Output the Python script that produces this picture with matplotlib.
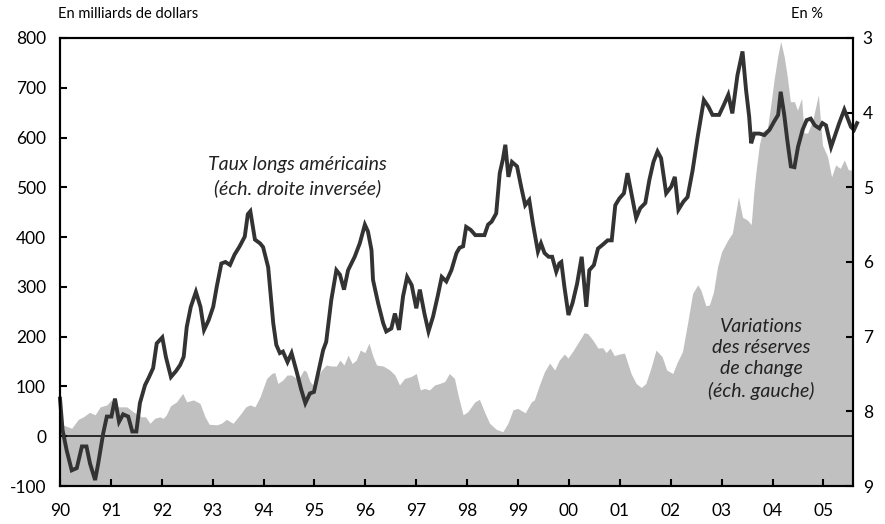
import matplotlib.pyplot as plt

# Variations des réserves de change, en milliards de dollars (échelle gauche)
res_dates = [1990.00, 1990.10, 1990.23, 1990.36, 1990.46, 1990.58, 1990.69, 1990.79, 1990.92, 1991.01,
             1991.14, 1991.31, 1991.44, 1991.60, 1991.68, 1991.77, 1991.86, 1991.96, 1992.03, 1992.09,
             1992.17, 1992.29, 1992.41, 1992.49, 1992.62, 1992.75, 1992.85, 1992.93, 1993.08, 1993.17,
             1993.27, 1993.40, 1993.55, 1993.65, 1993.73, 1993.83, 1993.93, 1994.00, 1994.06, 1994.16,
             1994.22, 1994.28, 1994.38, 1994.46, 1994.55, 1994.65, 1994.71, 1994.79, 1994.84, 1994.91,
             1994.97, 1995.04, 1995.14, 1995.23, 1995.33, 1995.43, 1995.50, 1995.58, 1995.66, 1995.74,
             1995.82, 1995.90, 1995.99, 1996.07, 1996.15, 1996.22, 1996.35, 1996.48, 1996.58, 1996.67,
             1996.77, 1996.90, 1997.00, 1997.08, 1997.16, 1997.26, 1997.36, 1997.46, 1997.56, 1997.65,
             1997.75, 1997.83, 1997.92, 1998.01, 1998.15, 1998.24, 1998.34, 1998.44, 1998.57, 1998.70,
             1998.80, 1998.90, 1998.99, 1999.14, 1999.26, 1999.32, 1999.42, 1999.52, 1999.62, 1999.72,
             1999.81, 1999.91, 1999.98, 2000.07, 2000.21, 2000.30, 2000.37, 2000.47, 2000.57, 2000.66,
             2000.73, 2000.81, 2000.89, 2000.99, 2001.09, 2001.22, 2001.32, 2001.42, 2001.51, 2001.61,
             2001.71, 2001.83, 2001.92, 2002.04, 2002.12, 2002.23, 2002.33, 2002.43, 2002.53, 2002.59,
             2002.69, 2002.76, 2002.84, 2002.92, 2003.00, 2003.12, 2003.21, 2003.33, 2003.41, 2003.51,
             2003.58, 2003.63, 2003.67, 2003.74, 2003.80, 2003.90, 2003.97, 2004.03, 2004.10, 2004.16,
             2004.23, 2004.29, 2004.35, 2004.43, 2004.49, 2004.57, 2004.62, 2004.69, 2004.79, 2004.90,
             2004.98, 2005.08, 2005.16, 2005.24, 2005.33, 2005.41, 2005.49, 2005.58]
res_vals = [26, 21, 16, 34, 39, 48, 43, 59, 63, 73,
            59, 59, 49, 39, 39, 26, 36, 39, 36, 43,
            61, 69, 86, 69, 73, 66, 39, 24, 23, 26,
            34, 26, 45, 59, 63, 59, 79, 99, 116, 126,
            128, 106, 113, 123, 123, 116, 119, 133, 130, 110,
            103, 116, 133, 143, 141, 141, 153, 143, 163, 146,
            153, 173, 168, 187, 160, 143, 141, 133, 123, 103,
            116, 120, 126, 93, 96, 93, 103, 106, 110, 126,
            116, 79, 43, 49, 69, 74, 49, 26, 14, 9,
            26, 53, 56, 47, 69, 73, 103, 130, 147, 133,
            153, 165, 157, 170, 193, 208, 206, 193, 177, 178,
            168, 177, 162, 165, 167, 126, 106, 98, 106, 137,
            173, 160, 133, 126, 147, 170, 227, 287, 304, 294,
            262, 264, 290, 341, 371, 394, 408, 481, 440, 434,
            425, 488, 528, 585, 612, 619, 669, 716, 762, 793,
            762, 722, 672, 672, 655, 679, 609, 609, 635, 686,
            585, 562, 521, 545, 538, 555, 535, 535]

# Taux longs américains, en % (échelle droite inversée)
taux_dates = [1990.00, 1990.05, 1990.13, 1990.23, 1990.33, 1990.43, 1990.52, 1990.59, 1990.69, 1990.75,
              1990.85, 1990.92, 1991.01, 1991.08, 1991.16, 1991.24, 1991.34, 1991.42, 1991.50, 1991.57,
              1991.67, 1991.75, 1991.83, 1991.90, 1992.01, 1992.08, 1992.18, 1992.28, 1992.36, 1992.43,
              1992.49, 1992.57, 1992.67, 1992.76, 1992.83, 1992.92, 1993.01, 1993.08, 1993.17, 1993.25,
              1993.34, 1993.43, 1993.53, 1993.63, 1993.69, 1993.74, 1993.83, 1993.93, 1993.99, 1994.09,
              1994.19, 1994.25, 1994.32, 1994.38, 1994.47, 1994.55, 1994.65, 1994.74, 1994.82, 1994.91,
              1994.99, 1995.07, 1995.17, 1995.23, 1995.33, 1995.43, 1995.50, 1995.58, 1995.66, 1995.79,
              1995.89, 1995.99, 1996.05, 1996.12, 1996.15, 1996.25, 1996.35, 1996.41, 1996.51, 1996.58,
              1996.66, 1996.74, 1996.82, 1996.91, 1997.00, 1997.07, 1997.16, 1997.24, 1997.33, 1997.42,
              1997.50, 1997.59, 1997.69, 1997.79, 1997.85, 1997.92, 1997.98, 1998.07, 1998.16, 1998.34,
              1998.41, 1998.48, 1998.57, 1998.64, 1998.70, 1998.75, 1998.81, 1998.88, 1998.98, 1999.06,
              1999.14, 1999.22, 1999.29, 1999.39, 1999.45, 1999.52, 1999.60, 1999.67, 1999.75, 1999.81,
              1999.85, 1999.91, 1999.99, 2000.07, 2000.16, 2000.25, 2000.34, 2000.40, 2000.49, 2000.57,
              2000.66, 2000.76, 2000.84, 2000.91, 2000.99, 2001.08, 2001.15, 2001.24, 2001.32, 2001.40,
              2001.50, 2001.58, 2001.66, 2001.74, 2001.81, 2001.91, 2002.01, 2002.08, 2002.15, 2002.25,
              2002.33, 2002.43, 2002.53, 2002.65, 2002.74, 2002.82, 2002.95, 2003.04, 2003.13, 2003.21,
              2003.31, 2003.41, 2003.48, 2003.54, 2003.58, 2003.64, 2003.74, 2003.84, 2003.94, 2004.03,
              2004.11, 2004.16, 2004.23, 2004.29, 2004.36, 2004.43, 2004.50, 2004.59, 2004.67, 2004.75,
              2004.83, 2004.92, 2004.98, 2005.05, 2005.15, 2005.22, 2005.31, 2005.41, 2005.46, 2005.54,
              2005.60, 2005.66]
taux_vals = [7.83, 8.25, 8.52, 8.79, 8.76, 8.47, 8.47, 8.70, 8.92, 8.70,
             8.29, 8.07, 8.07, 7.83, 8.14, 8.04, 8.07, 8.27, 8.27, 7.89,
             7.65, 7.54, 7.42, 7.09, 7.01, 7.27, 7.54, 7.46, 7.38, 7.27,
             6.87, 6.60, 6.40, 6.60, 6.91, 6.78, 6.60, 6.33, 6.02, 6.00,
             6.04, 5.90, 5.79, 5.66, 5.36, 5.32, 5.70, 5.75, 5.80, 6.07,
             6.82, 7.11, 7.22, 7.20, 7.34, 7.22, 7.47, 7.71, 7.89, 7.76,
             7.74, 7.49, 7.18, 7.07, 6.51, 6.11, 6.17, 6.37, 6.11, 5.93,
             5.75, 5.50, 5.59, 5.84, 6.24, 6.55, 6.82, 6.93, 6.89, 6.69,
             6.91, 6.46, 6.20, 6.31, 6.62, 6.37, 6.69, 6.93, 6.73, 6.46,
             6.20, 6.26, 6.11, 5.88, 5.81, 5.79, 5.53, 5.57, 5.64, 5.64,
             5.50, 5.46, 5.35, 4.81, 4.63, 4.43, 4.86, 4.66, 4.72, 4.99,
             5.24, 5.17, 5.48, 5.86, 5.75, 5.88, 5.93, 5.93, 6.13, 6.02,
             6.00, 6.33, 6.71, 6.55, 6.29, 5.93, 6.60, 6.11, 6.04, 5.82,
             5.77, 5.71, 5.71, 5.24, 5.15, 5.08, 4.81, 5.13, 5.41, 5.28,
             5.21, 4.90, 4.66, 4.52, 4.61, 5.08, 4.99, 4.86, 5.30, 5.19,
             5.13, 4.77, 4.32, 3.83, 3.92, 4.03, 4.03, 3.90, 3.76, 4.01,
             3.50, 3.18, 3.70, 4.05, 4.41, 4.28, 4.28, 4.30, 4.23, 4.12,
             4.03, 3.72, 4.03, 4.37, 4.72, 4.73, 4.46, 4.23, 4.10, 4.08,
             4.17, 4.21, 4.14, 4.17, 4.46, 4.32, 4.14, 3.96, 4.05, 4.19,
             4.23, 4.14]

years = list(range(1990, 2006))
year_labels = [f"{y % 100:02d}" for y in years]
left_ticks = list(range(-100, 801, 100))
right_ticks = list(range(3, 10))

plt.rcParams['font.family'] = ['Lato', 'DejaVu Sans']
plt.rcParams['axes.unicode_minus'] = False

fig = plt.figure(figsize=(8.85, 5.24), dpi=100)
ax = fig.add_axes([0.0678, 0.0725, 0.896, 0.855])

# zone grise remplie depuis le bas du graphique
ax.fill_between(res_dates, res_vals, -100, color='#c0c0c0', lw=0)
ax.axhline(0, color='black', lw=1.1)

ax.set_xlim(1990, 2005.58)
ax.set_ylim(-100, 800)
ax.set_xticks(years)
ax.set_xticklabels(year_labels)
ax.set_yticks(left_ticks)
ax.tick_params(axis='both', direction='in', length=5, width=1.5, labelsize=12.5, colors='black')
ax.tick_params(axis='y', pad=10)
ax.tick_params(axis='x', pad=12)
for s in ax.spines.values():
    s.set_linewidth(1.5)

ax2 = ax.twinx()
ax2.plot(taux_dates, taux_vals, color='#333333', lw=2.8, solid_joinstyle='miter', clip_on=False)
ax2.set_ylim(9, 3)
ax2.set_yticks(right_ticks)
ax2.tick_params(axis='y', direction='in', length=5, width=1.5, labelsize=12.5, pad=7)
for s in ax2.spines.values():
    s.set_linewidth(1.5)

ax.text(1994.66, 521, "Taux longs américains\n(éch. droite inversée)", ha='center', va='center',
        fontsize=14, style='italic', linespacing=1.4, color='#222222')
ax.text(2003.78, 156, "Variations\ndes réserves\nde change\n(éch. gauche)", ha='center', va='center',
        fontsize=14, style='italic', linespacing=1.3, color='#222222')

fig.text(58 / 885, 1 - 14 / 524, "En milliards de dollars", ha='left', va='center', fontsize=10.5)
fig.text(823 / 885, 1 - 14 / 524, "En %", ha='right', va='center', fontsize=10.5)

fig.savefig('out.png', dpi=100)
